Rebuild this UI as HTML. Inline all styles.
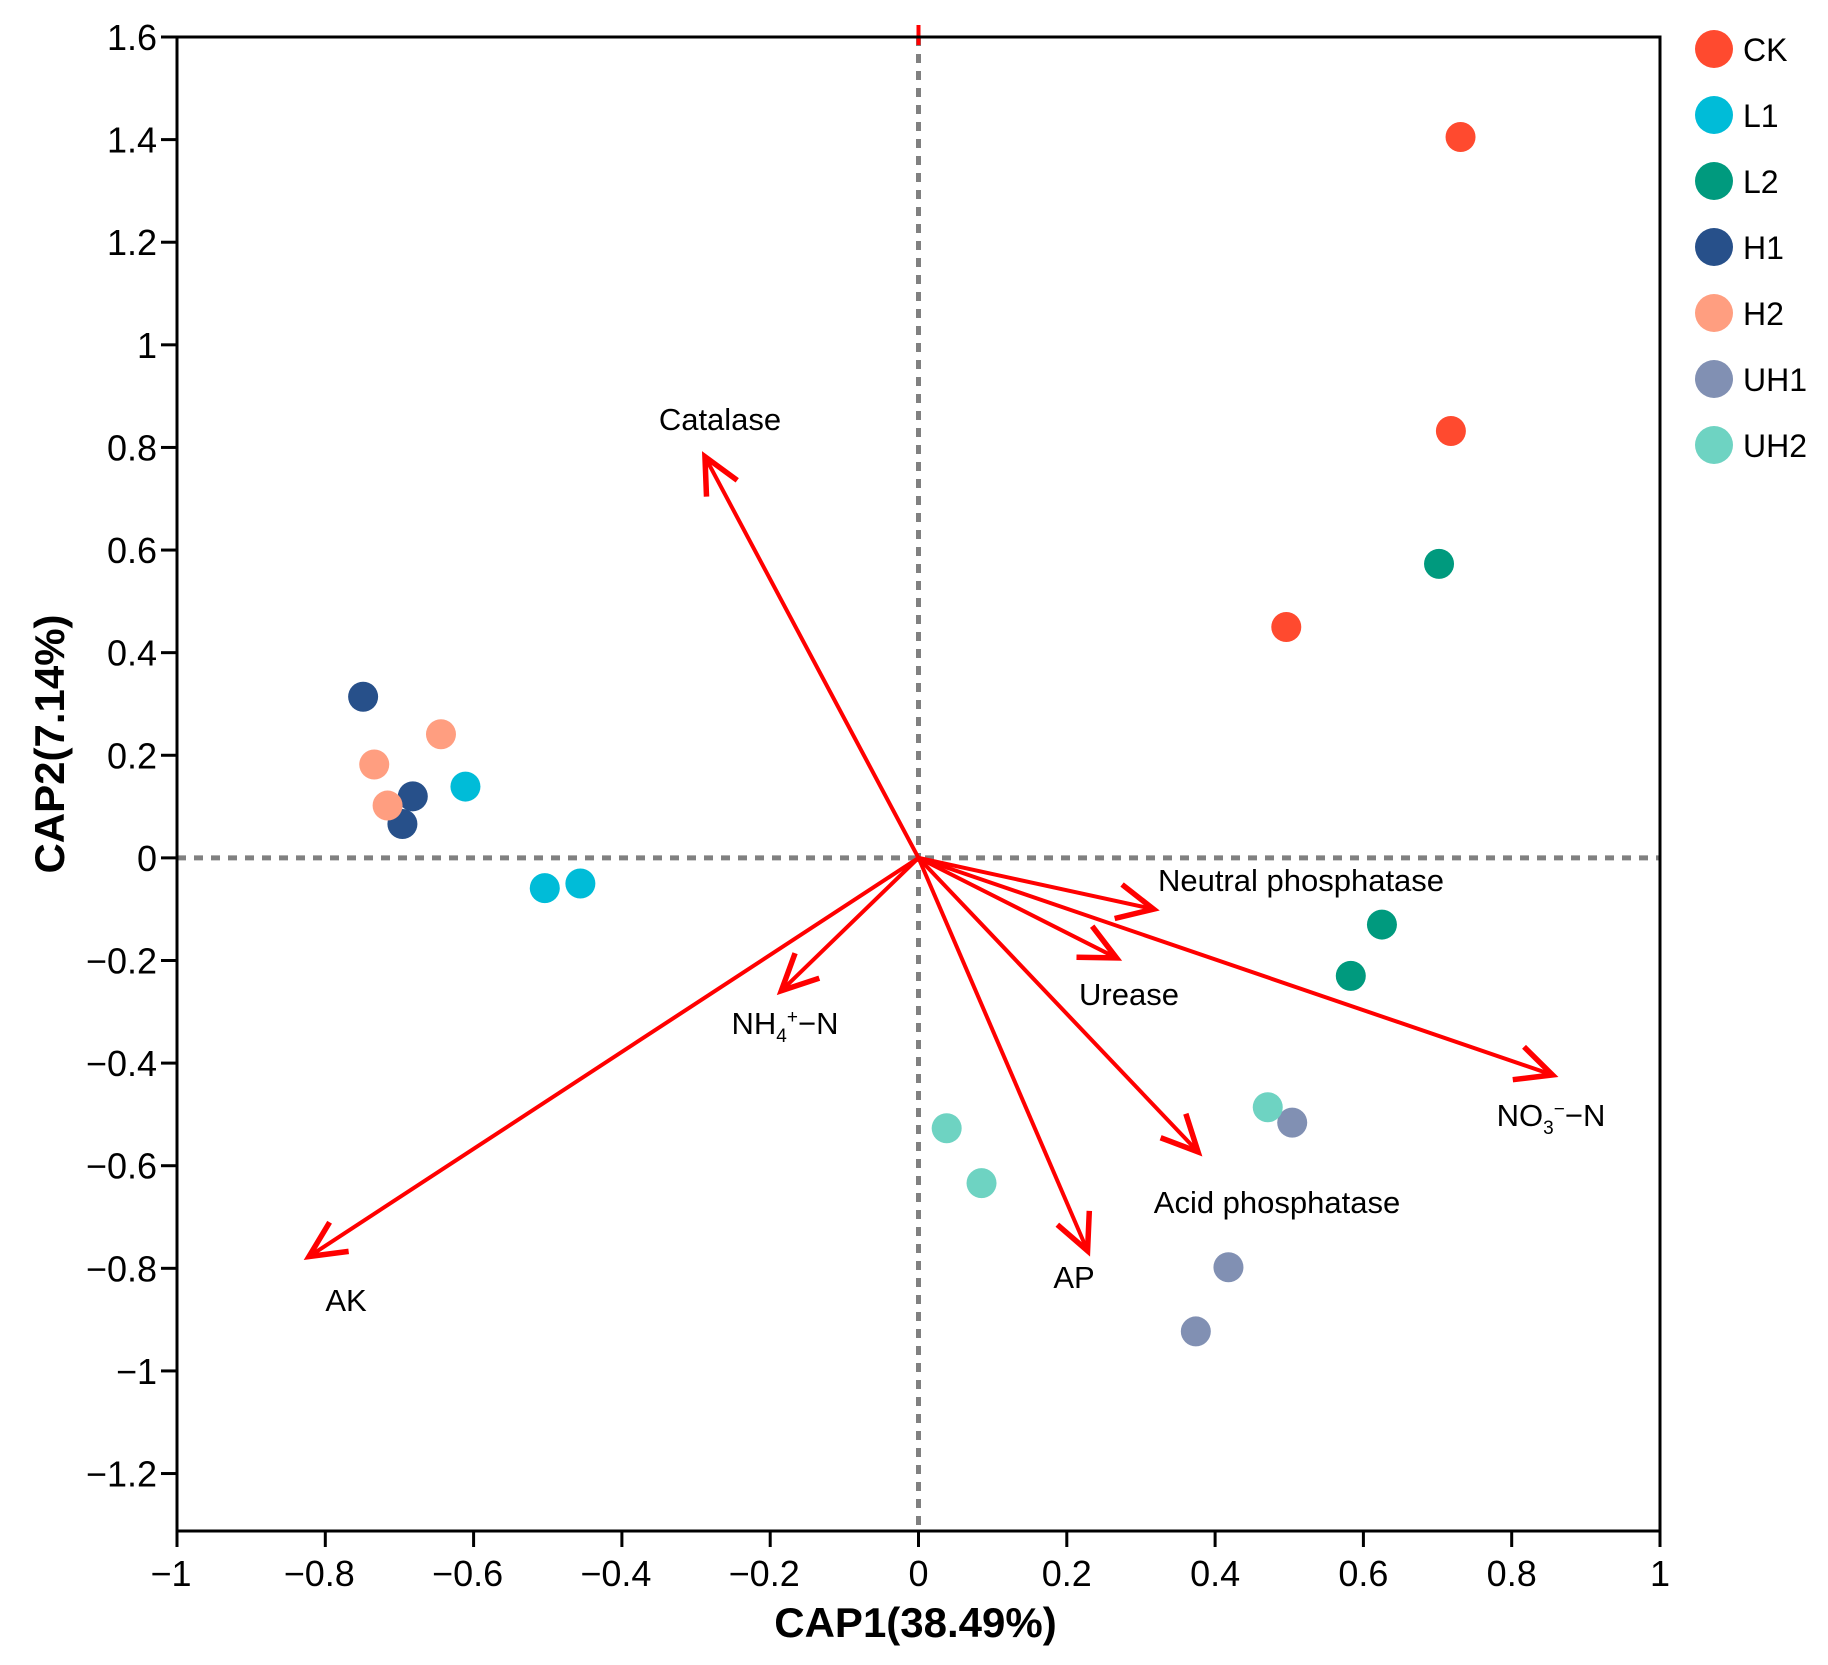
<!DOCTYPE html>
<html><head><meta charset="utf-8"><style>
html,body{margin:0;padding:0;background:#fff;}
svg{display:block;font-family:"Liberation Sans",Arial,sans-serif;}
</style></head><body>
<svg id="chart" width="1828" height="1665" viewBox="0 0 1828 1665" xmlns="http://www.w3.org/2000/svg"></svg>
<script>
const groups = ["CK","L1","L2","H1","H2","UH1","UH2"];
const groupColors = ["#FF4A2F","#00BCD8","#009A7E","#27508A","#FF9E80","#8190B3","#6ED3C2"];
const ptsX = {
  CK:[0.731,0.718,0.496], L1:[-0.611,-0.504,-0.456], L2:[0.702,0.625,0.583],
  H1:[-0.749,-0.682,-0.696], H2:[-0.644,-0.734,-0.716],
  UH1:[0.504,0.418,0.374], UH2:[0.471,0.038,0.085]
};
const ptsY = {
  CK:[1.405,0.832,0.45], L1:[0.139,-0.059,-0.05], L2:[0.573,-0.13,-0.23],
  H1:[0.314,0.12,0.066], H2:[0.241,0.182,0.102],
  UH1:[-0.516,-0.798,-0.923], UH2:[-0.486,-0.527,-0.634]
};
const arrowNames = ["Catalase","AK","NH4","AP","Acid phosphatase","Urease","Neutral phosphatase","NO3"];
const arrowX = [-0.288,-0.822,-0.185,0.228,0.377,0.267,0.317,0.855];
const arrowY = [0.782,-0.777,-0.259,-0.766,-0.573,-0.195,-0.100,-0.423];
const xTicks = [-1,-0.8,-0.6,-0.4,-0.2,0,0.2,0.4,0.6,0.8,1];
const yTicks = [-1.2,-1,-0.8,-0.6,-0.4,-0.2,0,0.2,0.4,0.6,0.8,1,1.2,1.4,1.6];

const L=177,R=1660,T=37,B=1531, yMax=1.6, yMin=-1.312;
const sx=v=>L+(v+1)/2*(R-L);
const sy=v=>T+(yMax-v)/(yMax-yMin)*(B-T);
const svg=document.getElementById('chart');
const NS="http://www.w3.org/2000/svg";
function mk(tag,attrs,parent){const e=document.createElementNS(NS,tag);for(const k in attrs)e.setAttribute(k,attrs[k]);(parent||svg).appendChild(e);return e;}
function fmt(v){let s=(Math.round(v*10)/10).toString();return s.replace('-','\u2212');}

let e=mk('line',{x1:L,x2:R,y1:sy(0),y2:sy(0),stroke:'#808080','stroke-width':5,'stroke-dasharray':'9 8'});

e=mk('line',{x1:sx(0),x2:sx(0),y1:T,y2:B,stroke:'#808080','stroke-width':5,'stroke-dasharray':'9 8'});

e=mk('line',{x1:sx(0),x2:sx(0),y1:T-12,y2:T+8,stroke:'#FF0000','stroke-width':4});


e=mk('rect',{x:L,y:T,width:R-L,height:B-T,fill:'none',stroke:'#000','stroke-width':3});


xTicks.forEach(v=>{
  const t=mk('line',{x1:sx(v),x2:sx(v),y1:B,y2:B+16,stroke:'#000','stroke-width':3});
  
  const tx=mk('text',{x:sx(v)-(v<0?6:0),y:B+55,'text-anchor':'middle','font-size':36,fill:'#000'});
  tx.textContent=fmt(v);
  
});
yTicks.forEach(v=>{
  const t=mk('line',{x1:L-16,x2:L,y1:sy(v),y2:sy(v),stroke:'#000','stroke-width':3});
  
  const tx=mk('text',{x:L-20,y:sy(v)+13,'text-anchor':'end','font-size':36,fill:'#000'});
  tx.textContent=fmt(v);
  
});
e=mk('text',{x:(L+R)/2 - 3,y:1637,'text-anchor':'middle','font-size':42,'font-weight':'bold'});
e.textContent='CAP1(38.49%)';
e=mk('text',{x:0,y:0,'text-anchor':'middle','font-size':42,'font-weight':'bold',transform:`translate(64,${(T+B)/2 - 40}) rotate(-90)`});
e.textContent='CAP2(7.14%)';

const labelPos=[[720,419],[346,1300],[785,1023],[1074,1277],[1277,1202],[1129,994],[1301,880],[1551,1115]];
arrowNames.forEach((n,i)=>{
  const g=mk('g',{});
  
  
  const x0=sx(0),y0=sy(0),x1=sx(arrowX[i]),y1=sy(arrowY[i]);
  mk('line',{x1:x0,y1:y0,x2:x1,y2:y1,stroke:'#FF0000','stroke-width':4},g);
  const a=Math.atan2(y1-y0,x1-x0),h=40,w=0.45;
  const p1=[x1-h*Math.cos(a-w),y1-h*Math.sin(a-w)],p2=[x1-h*Math.cos(a+w),y1-h*Math.sin(a+w)];
  mk('polyline',{points:`${p1} ${x1},${y1} ${p2}`,fill:'none',stroke:'#FF0000','stroke-width':5.5},g);
  const [lx,ly]=labelPos[i];
  const t=mk('text',{x:lx,y:ly+11,'text-anchor':'middle','font-size':31,fill:'#000'},g);
  if(n==='NH4'){t.innerHTML='NH<tspan font-size="19" dy="8">4</tspan><tspan font-size="19" dy="-19">+</tspan><tspan dy="11">\u2212N</tspan>';}
  else if(n==='NO3'){t.innerHTML='NO<tspan font-size="19" dy="8">3</tspan><tspan font-size="19" dy="-19">\u2212</tspan><tspan dy="11">\u2212N</tspan>';}
  else t.textContent=n;
  
});

groups.forEach((gname,gi)=>{
  ptsX[gname].forEach((xv,j)=>{
    const c=mk('circle',{cx:sx(xv),cy:sy(ptsY[gname][j]),r:15,fill:groupColors[gi]});
    
    
  });
});

groups.forEach((gname,gi)=>{
  const g=mk('g',{});
  
  
  const cy=49+gi*66;
  mk('circle',{cx:1714,cy:cy,r:19,fill:groupColors[gi]},g);
  const t=mk('text',{x:1743,y:cy+12,'font-size':32,fill:'#000'},g);
  t.textContent=gname;
});
</script>
</body></html>
